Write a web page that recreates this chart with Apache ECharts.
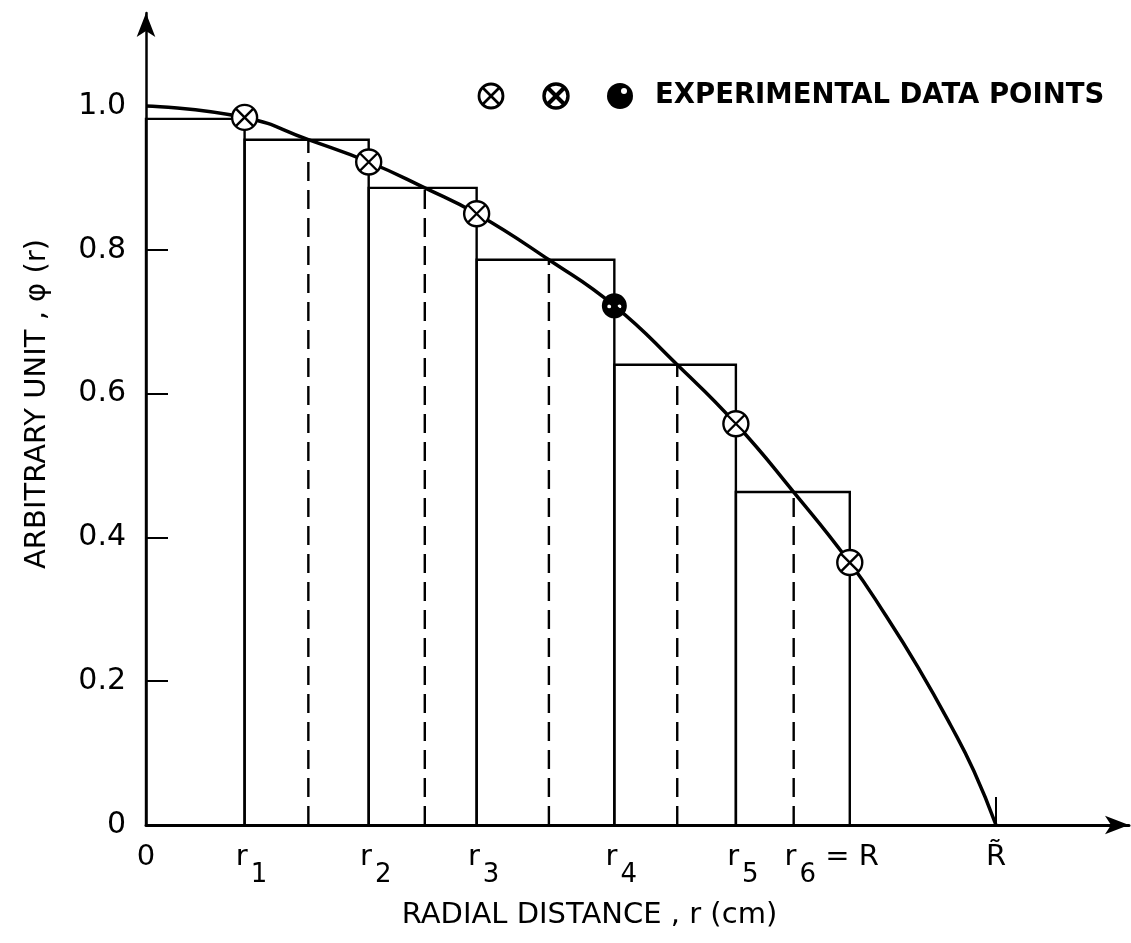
<!DOCTYPE html>
<html>
<head>
<meta charset="utf-8">
<script src="https://cdn.jsdelivr.net/npm/echarts@6/dist/echarts.min.js"></script>
<style>
html,body{margin:0;padding:0;background:#fff;}
#chart{width:1131px;height:943px;}
</style>
</head>
<body>
<div id="chart"></div>
<script>
// ---- data ----
// radial positions (arbitrary length units, R~ = 100)
const boundaryR = [0, 11.6, 26.2, 38.9, 55.1, 69.4, 82.8];   // 0, r1 .. r6
const rTilde = 100;
const stepHeights = [0.982, 0.953, 0.886, 0.786, 0.640, 0.463]; // flat steps between r(i-1) and r(i)
const midR = [19.1, 32.8, 47.4, 62.5, 76.2];                  // dashed lines (curve crosses step tops)
const pointValues = [0.984, 0.922, 0.850, 0.722, 0.558, 0.365]; // experimental points at r1..r6
const pointKinds = ['cross', 'cross', 'cross', 'filled', 'cross', 'cross'];
const curveR      = [0, 11.6, 19.1, 26.2, 32.8, 38.9, 47.4, 55.1, 62.5, 69.4, 76.2, 82.8, 87.0, 90.8, 94.7, 97.4, 100];
const curveValues = [1.0, 0.984, 0.953, 0.922, 0.886, 0.850, 0.786, 0.722, 0.640, 0.558, 0.463, 0.365, 0.292, 0.220, 0.138, 0.075, 0.0];
const yTickValues = [0, 0.2, 0.4, 0.6, 0.8, 1.0];
const yTickLabels = ['0', '0.2', '0.4', '0.6', '0.8', '1.0'];
const yTickMarks = [0.2, 0.4, 0.6, 0.8];
const xTickValues = boundaryR.concat([rTilde]);
const xTickLabels = ['0', 'r_1', 'r_2', 'r_3', 'r_4', 'r_5', 'r_6 = R', 'R\u0303'];
const xName = 'RADIAL DISTANCE , r (cm)';
const yName = 'ARBITRARY UNIT , \u03c6 (r)';
const legendText = 'EXPERIMENTAL DATA POINTS';

const FONT = 'DejaVu Sans';
const CROSS = 'path://M23,12A11,11,0,1,1,1,12A11,11,0,1,1,23,12ZM4.3,4.3L19.7,19.7M19.7,4.3L4.3,19.7';
const FILLED = 'path://M23,12A11,11,0,1,1,1,12A11,11,0,1,1,23,12ZM9.2,12.5A1.7,1.7,0,1,0,5.8,12.5A1.7,1.7,0,1,0,9.2,12.5ZM18.2,12.5A1.7,1.7,0,1,0,14.8,12.5A1.7,1.7,0,1,0,18.2,12.5Z';

function nearestIndex(arr, v) {
  let best = 0;
  for (let i = 1; i < arr.length; i++) if (Math.abs(arr[i] - v) < Math.abs(arr[best] - v)) best = i;
  return best;
}
function xLabel(v) {
  const t = xTickLabels[nearestIndex(xTickValues, v)];
  const m = /^r_(\d)(.*)$/.exec(t);
  if (m) {
    let s = '{lp|}{b|r}{s|' + m[1] + '}';
    if (m[2]) s += '{b|' + m[2] + '}{pad|}';
    return s;
  }
  return '{b|' + t + '}';
}

const boxData = stepHeights.map((h, i) => [boundaryR[i], boundaryR[i + 1], h]);
const dashData = midR.map((d, i) => [d, stepHeights[i + 1]]);
const curveData = curveR.map((r, i) => [r, curveValues[i]]);
const pointData = boundaryR.slice(1).map((r, i) => ({
  value: [r, pointValues[i]],
  symbol: pointKinds[i] === 'filled' ? FILLED : CROSS,
  itemStyle: pointKinds[i] === 'filled'
    ? { color: '#000', borderWidth: 0, opacity: 1 }
    : { color: '#fff', borderColor: '#000', borderWidth: 2.4, opacity: 1 }
}));

const chart = echarts.init(document.getElementById('chart'), null, { renderer: 'canvas' });
chart.setOption({
  animation: false,
  backgroundColor: '#fff',
  grid: { left: 146, right: 2, top: 13, bottom: 118 },
  xAxis: {
    type: 'value', min: 0, max: 115.65,
    splitLine: { show: false },
    axisLine: { show: true, lineStyle: { color: '#000', width: 3 }, symbol: ['none', 'arrow'], symbolSize: [14, 24] },
    axisTick: { show: true, customValues: [rTilde], inside: true, length: 28, lineStyle: { color: '#000', width: 2 } },
    axisLabel: {
      customValues: xTickValues, margin: 18, formatter: xLabel, color: '#000',
      rich: {
        b: { fontFamily: FONT, fontSize: 29, color: '#000', padding: [0, 0, 18, 0] },
        s: { fontFamily: FONT, fontSize: 26, color: '#000', padding: [18, 0, 0, 3] },
        lp: { width: 14 },
        pad: { width: 50 }
      }
    },
    name: xName, nameLocation: 'middle', nameGap: 76,
    nameTextStyle: { fontFamily: FONT, fontSize: 29, color: '#000', padding: [0, 96, 0, 0] }
  },
  yAxis: {
    type: 'value', min: 0, max: 1.1292,
    splitLine: { show: false },
    axisLine: { show: true, lineStyle: { color: '#000', width: 2.5 }, symbol: ['none', 'arrow'], symbolSize: [14, 24] },
    axisTick: { show: true, customValues: yTickMarks, inside: true, length: 22, lineStyle: { color: '#000', width: 2 } },
    axisLabel: {
      customValues: yTickValues, margin: 20, color: '#000', fontFamily: FONT, fontSize: 30,
      formatter: v => yTickLabels[nearestIndex(yTickValues, v)]
    },
    name: yName, nameLocation: 'middle', nameGap: 94, nameRotate: 90,
    nameTextStyle: { fontFamily: FONT, fontSize: 29, color: '#000', padding: [0, 0, 0, 30] }
  },
  series: [
    {
      type: 'custom', name: 'steps', z: 1, silent: true,
      encode: { x: [0, 1], y: 2 },
      data: boxData,
      renderItem: (params, api) => {
        const x0 = api.value(0), x1 = api.value(1), h = api.value(2);
        return {
          type: 'polyline',
          shape: { points: [api.coord([x0, 0]), api.coord([x0, h]), api.coord([x1, h]), api.coord([x1, 0])] },
          style: { fill: 'none', stroke: '#000', lineWidth: 2.4 }
        };
      }
    },
    {
      type: 'custom', name: 'midlines', z: 1, silent: true,
      encode: { x: 0, y: 1 },
      data: dashData,
      renderItem: (params, api) => {
        const d = api.value(0), h = api.value(1);
        const a = api.coord([d, 0]), b = api.coord([d, h]);
        return {
          type: 'line',
          shape: { x1: a[0], y1: a[1], x2: b[0], y2: b[1] },
          style: { stroke: '#000', lineWidth: 2.4, lineDash: [19, 9] }
        };
      }
    },
    {
      type: 'line', name: 'phi', z: 2, data: curveData,
      smooth: 0.5, showSymbol: false, symbol: 'none',
      lineStyle: { color: '#000', width: 3.5 }
    },
    {
      type: 'scatter', name: 'points', z: 3, data: pointData, symbolSize: 25
    }
  ],
  graphic: [
    { type: 'circle', shape: { cx: 491, cy: 96, r: 12 }, style: { fill: '#fff', stroke: '#000', lineWidth: 2.8 } },
    { type: 'line', shape: { x1: 483, y1: 88, x2: 499, y2: 104 }, style: { stroke: '#000', lineWidth: 2.6 } },
    { type: 'line', shape: { x1: 499, y1: 88, x2: 483, y2: 104 }, style: { stroke: '#000', lineWidth: 2.6 } },
    { type: 'circle', shape: { cx: 556, cy: 96, r: 12 }, style: { fill: '#fff', stroke: '#000', lineWidth: 3.4 } },
    { type: 'line', shape: { x1: 548, y1: 88, x2: 564, y2: 104 }, style: { stroke: '#000', lineWidth: 4 } },
    { type: 'line', shape: { x1: 564, y1: 88, x2: 548, y2: 104 }, style: { stroke: '#000', lineWidth: 4 } },
    { type: 'circle', shape: { cx: 620, cy: 96, r: 13 }, style: { fill: '#000' } },
    { type: 'circle', shape: { cx: 624, cy: 91, r: 3 }, style: { fill: '#fff' } },
    { type: 'text', x: 655, y: 96, style: { text: legendText, fontFamily: FONT, fontSize: 27.5, fontWeight: 'bold', fill: '#000', verticalAlign: 'middle' } }
  ]
});
</script>
</body>
</html>
